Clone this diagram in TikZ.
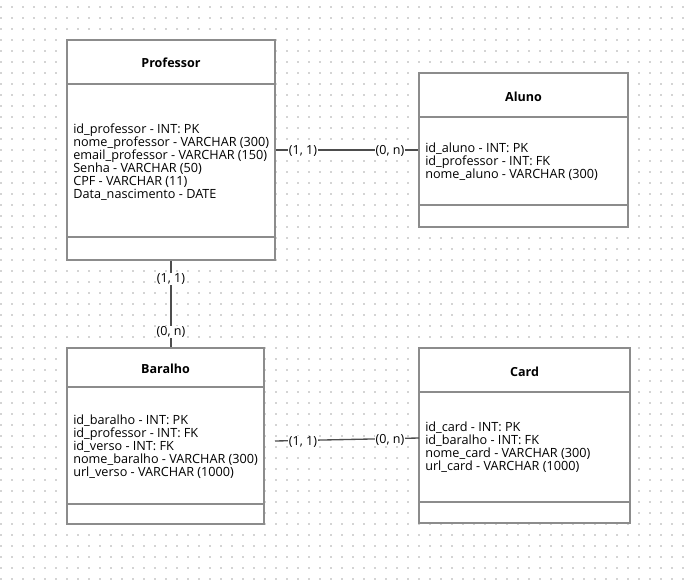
\documentclass[tikz,border=0pt]{standalone}
\usepackage{fontspec}
\setmainfont{Open Sans}
\definecolor{boxc}{HTML}{8C8C8C}
\definecolor{linec}{HTML}{4D4D4D}
\definecolor{dotc}{HTML}{D4D4D4}
\begin{document}
\begin{tikzpicture}[x=0.75pt,y=-0.75pt,
 entity/.style={draw=boxc, line width=1.1pt, fill=white, inner sep=0pt},
 divider/.style={draw=boxc, line width=1.1pt},
 title/.style={font=\fontsize{9.4pt}{11pt}\selectfont\bfseries, inner sep=0pt},
 fields/.style={font=\fontsize{9.5pt}{9.75pt}\selectfont, align=left, anchor=west, inner sep=0pt},
 rel/.style={draw=linec, line width=1pt},
 mult/.style={font=\fontsize{9.4pt}{10pt}\selectfont, fill=white, inner sep=0.5pt}]
\useasboundingbox (0,0) rectangle (688,585);
\fill[white] (0,0) rectangle (688,585);
\foreach \i in {0,...,62}{\foreach \j in {0,...,52}{\fill[dotc] ({1+11*\i-0.6},{7+11*\j-0.6}) rectangle ++(1.2,1.2);}}
% entities
\node[entity, minimum width=156pt, minimum height=165pt] (prof) at (171,150) {};
\draw[divider] (67,84) -- (275,84);
\draw[divider] (67,237) -- (275,237);
\node[title] (proft) at (171,63) {Professor};
\node[fields] (proff) at (73,162) {id\_professor - INT: PK\\nome\_professor - VARCHAR (300)\\email\_professor - VARCHAR (150)\\Senha - VARCHAR (50)\\CPF - VARCHAR (11)\\Data\_nascimento - DATE};

\node[entity, minimum width=156.75pt, minimum height=115.5pt] (aluno) at (523.5,150) {};
\draw[divider] (419,117) -- (628,117);
\draw[divider] (419,205) -- (628,205);
\node[title] (alunot) at (523.5,97) {Aluno};
\node[fields] (alunof) at (425,161.5) {id\_aluno - INT: PK\\id\_professor - INT: FK\\nome\_aluno - VARCHAR (300)};

\node[entity, minimum width=147.75pt, minimum height=132pt] (baralho) at (165.5,436) {};
\draw[divider] (67,387) -- (264,387);
\draw[divider] (67,504) -- (264,504);
\node[title] (baralhot) at (165.5,369) {Baralho};
\node[fields] (baralhof) at (73,447) {id\_baralho - INT: PK\\id\_professor - INT: FK\\id\_verso - INT: FK\\nome\_baralho - VARCHAR (300)\\url\_verso - VARCHAR (1000)};

\node[entity, minimum width=158.25pt, minimum height=131.25pt] (card) at (524.5,435.5) {};
\draw[divider] (419,392) -- (630,392);
\draw[divider] (419,502) -- (630,502);
\node[title] (cardt) at (524.5,372) {Card};
\node[fields] (cardf) at (425,447.5) {id\_card - INT: PK\\id\_baralho - INT: FK\\nome\_card - VARCHAR (300)\\url\_card - VARCHAR (1000)};

% connectors
\draw[rel] (prof.east) -- (aluno.west);
\node[mult] (m1) at (303,151) {(1, 1)};
\node[mult] (m2) at (390,151) {(0, n)};

\draw[rel] (prof.south) -- (prof.south |- baralho.north);
\node[mult] (m3) at (171,279) {(1, 1)};
\node[mult] (m4) at (171,332) {(0, n)};

\coordinate (bc) at (275,441);
\coordinate (cb) at (419,438);
\draw[rel] (bc) -- (cb);
\node[mult] (m5) at (303,442) {(1, 1)};
\node[mult] (m6) at (390,440) {(0, n)};
\end{tikzpicture}
\end{document}
